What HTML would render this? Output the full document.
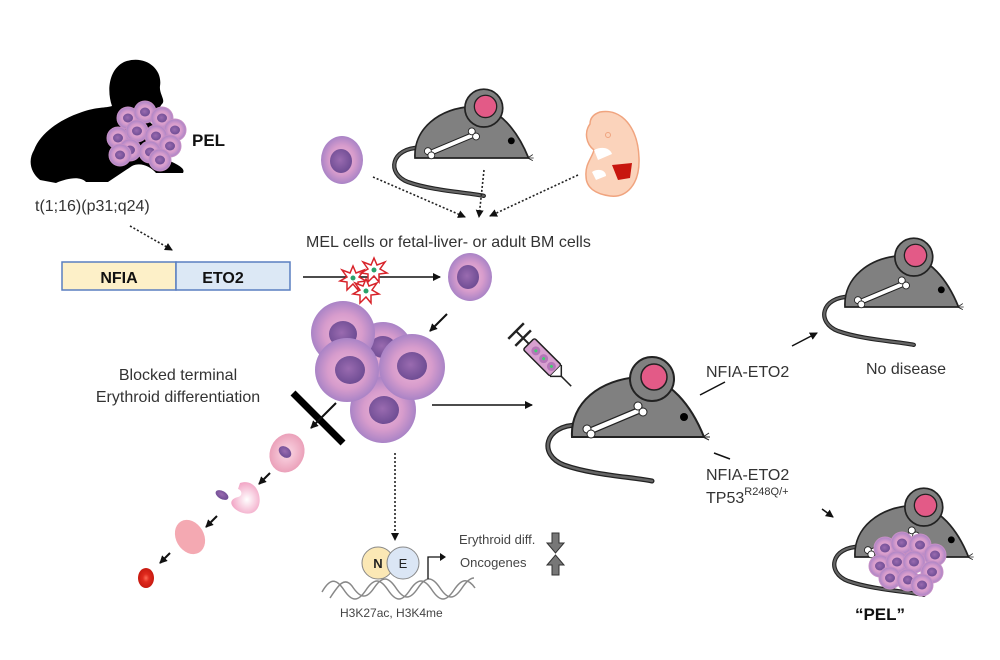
<!DOCTYPE html>
<html><head><meta charset="utf-8"><style>
html,body{margin:0;padding:0;background:#fff}
svg{display:block}
text{font-family:"Liberation Sans",Arial,sans-serif}
</style></head><body>
<svg width="1000" height="660" viewBox="0 0 1000 660" xmlns="http://www.w3.org/2000/svg">
<defs>
<radialGradient id="cg" cx="50%" cy="50%" r="50%">
<stop offset="0" stop-color="#f0b8d8"/><stop offset="0.6" stop-color="#d79ccc"/><stop offset="1" stop-color="#a983c6"/></radialGradient>
<radialGradient id="ng" cx="45%" cy="45%" r="55%"><stop offset="0" stop-color="#9a6bb0"/><stop offset="1" stop-color="#6f4d94"/></radialGradient>
<radialGradient id="pk" cx="50%" cy="50%" r="55%"><stop offset="0" stop-color="#fbd9e6"/><stop offset="1" stop-color="#e99bb5"/></radialGradient>
<radialGradient id="wh" cx="55%" cy="55%" r="55%"><stop offset="0" stop-color="#ffffff"/><stop offset="1" stop-color="#f2a6c6"/></radialGradient>
<radialGradient id="rd" cx="50%" cy="50%" r="50%"><stop offset="0" stop-color="#ff6a55"/><stop offset="0.4" stop-color="#e02a1e"/><stop offset="1" stop-color="#c71a10"/></radialGradient>
<marker id="ah" markerWidth="8" markerHeight="8" refX="7" refY="4" orient="auto" markerUnits="userSpaceOnUse"><path d="M0,0 L8,4 L0,8 Z" fill="#111"/></marker>
<g id="sc"><circle r="11" fill="url(#cg)" stroke="#c790c6" stroke-width="1"/><ellipse cx="0" cy="0" rx="5" ry="4.5" fill="url(#ng)"/></g>
<g id="mouse">
<path d="M6,-12 C-28,-12 -34,18 -8,28 C20,38 60,40 80,44" fill="none" stroke="#222" stroke-width="5" stroke-linecap="round"/>
<path d="M6,-12 C-28,-12 -34,18 -8,28 C20,38 60,40 80,44" fill="none" stroke="#666" stroke-width="2.5" stroke-linecap="round"/>
<path d="M0,0 C-2,-34 28,-58 68,-60 C98,-60 120,-30 132,0 Z" fill="#808080" stroke="#222" stroke-width="2"/>
<circle cx="80" cy="-58" r="22" fill="#808080" stroke="#222" stroke-width="2"/>
<circle cx="82" cy="-60" r="13" fill="#e35a87" stroke="#222" stroke-width="1.5"/>
<circle cx="112" cy="-20" r="4" fill="#000"/>
<line x1="18" y1="-6" x2="68" y2="-27" stroke="#222" stroke-width="7" stroke-linecap="round"/>
<line x1="18" y1="-6" x2="68" y2="-27" stroke="#fff" stroke-width="4.5" stroke-linecap="round"/>
<circle cx="15" cy="-8" r="4" fill="#fff" stroke="#222" stroke-width="1"/><circle cx="19" cy="-3" r="4" fill="#fff" stroke="#222" stroke-width="1"/>
<circle cx="66" cy="-31" r="4" fill="#fff" stroke="#222" stroke-width="1"/><circle cx="71" cy="-25" r="4" fill="#fff" stroke="#222" stroke-width="1"/>
<path d="M131,0 l6,-4 M131,0 l7,0 M131,0 l6,3" stroke="#222" stroke-width="1"/>
</g>
</defs>

<!-- baby -->
<path fill="#000" d="M40,180 C30,172 28,160 34,150 C40,134 58,120 82,112 C96,107 106,108 112,106 C107,92 108,70 124,62 C144,54 163,68 160,86 C159,94 166,100 162,104 C158,108 161,114 152,118 L150,122 C160,132 170,150 168,160 C176,164 186,168 183,173 L156,173 C150,166 140,162 132,166 L108,182 L86,182 C80,176 68,178 56,183 Z"/>
<g>
<use href="#sc" x="128" y="118"/><use href="#sc" x="145" y="112"/><use href="#sc" x="162" y="118"/><use href="#sc" x="175" y="130"/>
<use href="#sc" x="118" y="138"/><use href="#sc" x="137" y="131"/><use href="#sc" x="156" y="136"/><use href="#sc" x="170" y="146"/>
<use href="#sc" x="130" y="150"/><use href="#sc" x="150" y="152"/><use href="#sc" x="160" y="160"/><use href="#sc" x="120" y="155"/>
</g>
<text x="192" y="146" font-size="17" font-weight="bold" fill="#111">PEL</text>
<text x="35" y="211" font-size="16" fill="#333">t(1;16)(p31;q24)</text>
<line x1="130" y1="226" x2="172" y2="250" stroke="#222" stroke-width="1.6" stroke-dasharray="2,2" marker-end="url(#ah)"/>

<!-- fusion box -->
<rect x="62" y="262" width="114" height="28" fill="#fdf0c8" stroke="#5a7fc0" stroke-width="1.5"/>
<rect x="176" y="262" width="114" height="28" fill="#dce8f5" stroke="#5a7fc0" stroke-width="1.5"/>
<text x="119" y="283" font-size="16" font-weight="bold" text-anchor="middle" fill="#111">NFIA</text>
<text x="223" y="283" font-size="16" font-weight="bold" text-anchor="middle" fill="#111">ETO2</text>

<line x1="303" y1="277" x2="440" y2="277" stroke="#111" stroke-width="1.5" marker-end="url(#ah)"/>
<g fill="#fff" stroke="#d8232a" stroke-width="1.5">
<polygon points="353,266 356,273 364,270 359,277 366,281 358,282 358,290 353,284 347,290 347,282 340,281 347,277 342,270 350,273"/>
<polygon points="374,258 377,265 385,262 380,269 387,273 379,274 379,282 374,276 368,282 368,274 361,273 368,269 363,262 371,265"/>
<polygon points="366,279 369,286 377,283 372,290 379,294 371,295 371,303 366,297 360,303 360,295 353,294 360,290 355,283 363,286"/>
</g>
<circle cx="353" cy="278" r="2.5" fill="#2aa26a"/><circle cx="374" cy="270" r="2.5" fill="#2aa26a"/><circle cx="366" cy="291" r="2.5" fill="#2aa26a"/>
<ellipse cx="470" cy="277" rx="22" ry="24" fill="url(#cg)"/><ellipse cx="468" cy="277" rx="11" ry="12" fill="url(#ng)"/>

<!-- top sources -->
<ellipse cx="342" cy="160" rx="21" ry="24" fill="url(#cg)"/><ellipse cx="341" cy="161" rx="11" ry="12" fill="url(#ng)"/>
<use href="#mouse" transform="translate(415,158) scale(0.86)"/>
<g>
<path d="M600,112 C622,108 638,128 639,158 C640,185 626,198 610,196 C596,194 586,188 586,176 C585,164 592,158 594,150 C586,144 584,132 590,124 C590,118 594,114 600,112Z" fill="#fbd3bb" stroke="#f0a47f" stroke-width="1.5"/>
<path d="M612,165 L632,163 L630,178 L618,180 Z" fill="#c8160e"/>
<path d="M594,150 C602,146 610,148 612,154 L598,160 Z" fill="#fff"/>
<path d="M592,172 C598,168 606,170 606,176 L596,180 Z" fill="#fff"/>
<circle cx="608" cy="135" r="2.5" fill="none" stroke="#f0a47f"/>
</g>
<g stroke="#222" stroke-width="1.6" stroke-dasharray="2,2" fill="none">
<line x1="373" y1="177" x2="465" y2="217" marker-end="url(#ah)"/>
<line x1="484" y1="170" x2="479" y2="217" marker-end="url(#ah)"/>
<line x1="578" y1="175" x2="490" y2="216" marker-end="url(#ah)"/>
</g>
<text x="306" y="247" font-size="16" fill="#333">MEL cells or fetal-liver- or adult BM cells</text>

<line x1="447" y1="314" x2="430" y2="331" stroke="#111" stroke-width="2" marker-end="url(#ah)"/>

<!-- cluster -->
<g>
<circle cx="383" cy="352" r="30" fill="url(#cg)"/><ellipse cx="383" cy="347" rx="13" ry="11" fill="url(#ng)"/>
<circle cx="343" cy="333" r="32" fill="url(#cg)"/><ellipse cx="343" cy="334" rx="14" ry="13" fill="url(#ng)"/>
<circle cx="383" cy="410" r="33" fill="url(#cg)"/><ellipse cx="384" cy="410" rx="15" ry="14" fill="url(#ng)"/>
<circle cx="347" cy="370" r="32" fill="url(#cg)"/><ellipse cx="350" cy="370" rx="15" ry="14" fill="url(#ng)"/>
<circle cx="412" cy="367" r="33" fill="url(#cg)"/><ellipse cx="412" cy="366" rx="15" ry="14" fill="url(#ng)"/>
</g>
<text x="178" y="380" font-size="16" fill="#333" text-anchor="middle">Blocked terminal</text>
<text x="178" y="402" font-size="16" fill="#333" text-anchor="middle">Erythroid differentiation</text>
<line x1="293" y1="393" x2="343" y2="443" stroke="#000" stroke-width="7"/>
<line x1="336" y1="403" x2="311" y2="428" stroke="#111" stroke-width="2" marker-end="url(#ah)"/>

<!-- differentiation cascade -->
<ellipse cx="287" cy="453" rx="17" ry="20" transform="rotate(25 287 453)" fill="url(#pk)"/>
<ellipse cx="285" cy="452" rx="7" ry="5" transform="rotate(40 285 452)" fill="url(#ng)"/>
<line x1="270" y1="473" x2="259" y2="484" stroke="#111" stroke-width="2" marker-end="url(#ah)"/>
<path d="M240,483 C255,478 262,495 259,505 C255,518 240,514 234,508 C228,502 233,498 238,497 C243,496 242,490 238,489 Z" fill="url(#wh)"/>
<ellipse cx="222" cy="495" rx="7" ry="4" transform="rotate(30 222 495)" fill="url(#ng)"/>
<line x1="217" y1="516" x2="206" y2="527" stroke="#111" stroke-width="2" marker-end="url(#ah)"/>
<ellipse cx="190" cy="537" rx="14" ry="18" transform="rotate(-30 190 537)" fill="#f4a9b2"/>
<line x1="170" y1="553" x2="160" y2="563" stroke="#111" stroke-width="2" marker-end="url(#ah)"/>
<ellipse cx="146" cy="578" rx="8" ry="10" fill="url(#rd)"/>

<!-- dotted down -->
<line x1="395" y1="453" x2="395" y2="540" stroke="#222" stroke-width="1.6" stroke-dasharray="2,2" marker-end="url(#ah)"/>

<!-- DNA -->
<g fill="none" stroke="#888" stroke-width="1.5">
<path d="M322,592 C330,578 336,578 344,590 C352,602 358,602 366,590 C374,578 380,578 388,590 C396,602 402,602 410,590 C418,578 424,578 432,590 C440,602 446,602 454,590 C462,578 468,578 475,588"/>
<path d="M330,598 C338,586 344,576 352,586 C360,598 366,600 374,588 C382,576 388,576 396,588 C404,600 410,600 418,588 C426,576 432,576 440,588 C448,600 454,600 462,588 C466,582 470,578 474,578"/>
</g>
<circle cx="378" cy="563" r="16" fill="#fbe8b5" stroke="#888" stroke-width="1"/>
<circle cx="403" cy="563" r="16" fill="#dbe6f5" stroke="#888" stroke-width="1"/>
<text x="378" y="568" font-size="13" font-weight="bold" text-anchor="middle" fill="#222">N</text>
<text x="403" y="568" font-size="13" text-anchor="middle" fill="#222">E</text>
<path d="M428,579 L428,557 L440,557" fill="none" stroke="#111" stroke-width="1.3"/>
<path d="M440,553 L446,557 L440,561 Z" fill="#111"/>
<text x="459" y="544" font-size="13" fill="#444">Erythroid diff.</text>
<text x="460" y="567" font-size="13" fill="#444">Oncogenes</text>
<path d="M552,533 h7 v10 h5 l-8.5,10 l-8.5,-10 h5 Z" fill="#777" stroke="#333" stroke-width="1"/>
<path d="M552,575 h7 v-10 h5 l-8.5,-10 l-8.5,10 h5 Z" fill="#777" stroke="#333" stroke-width="1"/>
<text x="340" y="617" font-size="12" fill="#444">H3K27ac, H3K4me</text>

<!-- to mouse -->
<line x1="432" y1="405" x2="532" y2="405" stroke="#111" stroke-width="1.5" marker-end="url(#ah)"/>
<use href="#mouse" transform="translate(572,437)"/>
<!-- syringe -->
<g transform="translate(550,365) rotate(45)">
<rect x="-30" y="-8" width="38" height="16" rx="2" fill="#d8a0d0" stroke="#222" stroke-width="1.5"/>
<circle cx="-20" cy="0" r="4.5" fill="#b576b8"/><circle cx="-9" cy="0" r="4.5" fill="#b576b8"/><circle cx="2" cy="0" r="4.5" fill="#b576b8"/>
<circle cx="-20" cy="0" r="1.5" fill="#3fd070"/><circle cx="-9" cy="0" r="1.5" fill="#3fd070"/><circle cx="2" cy="0" r="1.5" fill="#3fd070"/>
<path d="M8,-8 L16,0 L8,8" fill="#fff" stroke="#222" stroke-width="1.5"/>
<line x1="16" y1="0" x2="30" y2="0" stroke="#222" stroke-width="1.5"/>
<line x1="-30" y1="0" x2="-48" y2="0" stroke="#222" stroke-width="2"/>
<line x1="-38" y1="-11" x2="-38" y2="11" stroke="#222" stroke-width="2.5"/>
<line x1="-48" y1="-11" x2="-48" y2="11" stroke="#222" stroke-width="2.5"/>
</g>

<!-- branches -->
<line x1="700" y1="395" x2="725" y2="382" stroke="#111" stroke-width="1.5"/>
<line x1="792" y1="346" x2="817" y2="333" stroke="#111" stroke-width="1.5" marker-end="url(#ah)"/>
<text x="706" y="377" font-size="16" fill="#333">NFIA-ETO2</text>
<text x="866" y="374" font-size="16" fill="#333">No disease</text>
<use href="#mouse" transform="translate(845,307) scale(0.86)"/>

<line x1="714" y1="453" x2="730" y2="459" stroke="#111" stroke-width="1.5"/>
<text x="706" y="480" font-size="16" fill="#333">NFIA-ETO2</text>
<text x="706" y="503" font-size="16" fill="#333">TP53<tspan font-size="11" dy="-8">R248Q/+</tspan></text>
<line x1="822" y1="509" x2="833" y2="517" stroke="#111" stroke-width="1.5" marker-end="url(#ah)"/>
<use href="#mouse" transform="translate(855,557) scale(0.86)"/>
<g>
<use href="#sc" x="885" y="548"/><use href="#sc" x="902" y="543"/><use href="#sc" x="920" y="545"/><use href="#sc" x="935" y="555"/>
<use href="#sc" x="880" y="566"/><use href="#sc" x="897" y="562"/><use href="#sc" x="914" y="562"/><use href="#sc" x="932" y="572"/>
<use href="#sc" x="890" y="578"/><use href="#sc" x="908" y="580"/><use href="#sc" x="922" y="585"/>
</g>
<text x="880" y="620" font-size="17" font-weight="bold" fill="#111" text-anchor="middle">“PEL”</text>
</svg>
</body></html>
